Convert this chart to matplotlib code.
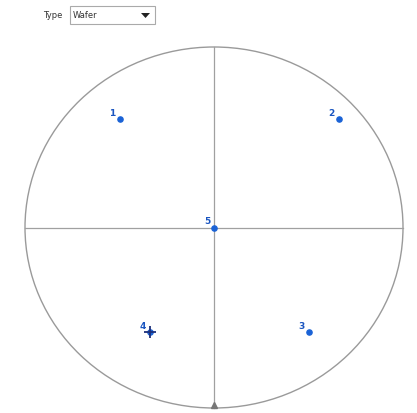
import numpy as np
import matplotlib.pyplot as plt
from matplotlib.patches import Ellipse, FancyBboxPatch, Polygon

# site positions on the wafer (normalised, centre = 0)
site_ids = ['1', '2', '3', '4', '5']
site_x = [-0.50, 0.66, 0.50, -0.34, 0.00]
site_y = [0.60, 0.60, -0.58, -0.58, 0.00]
marked_site = '4'
type_label = 'Type'
type_value = 'Wafer'

fig = plt.figure(figsize=(4.17, 4.13), dpi=100)
W, H = 417, 413

# wafer area
ax = fig.add_axes([25 / W, 5 / H, 378 / W, 361 / H])
ax.set_xlim(-1, 1)
ax.set_ylim(-1, 1)
ax.axis('off')

ax.add_patch(Ellipse((0, 0), 2, 2, fill=False, ec='#9a9a9a', lw=1.0, clip_on=False))
ax.plot([-1, 1], [0, 0], color='#a0a0a0', lw=0.9, clip_on=False)
ax.plot([0, 0], [-1, 1], color='#a0a0a0', lw=0.9, clip_on=False)
# notch
ax.plot([0], [-0.985], marker='^', color='#777777', ms=5, clip_on=False)

ax.scatter(site_x, site_y, s=14, color='#1a62d6', zorder=3)
for sid, x, y in zip(site_ids, site_x, site_y):
    ax.annotate(sid, (x, y), xytext=(-5, 1), textcoords='offset points',
                color='#1a55c0', fontsize=6.5, fontweight='bold', ha='center', va='bottom')
    if sid == marked_site:
        ax.plot([x], [y], marker='+', color='#1c2f7a', ms=9, mew=1.3, zorder=4)

# type selector above the chart
fig.text(62 / W, 1 - 15 / H, type_label, fontsize=6, ha='right', va='center', color='#333333')
box = FancyBboxPatch((70 / W, 1 - 24 / H), 85 / W, 18 / H, boxstyle='square,pad=0',
                     transform=fig.transFigure, fc='white', ec='#aaaaaa', lw=0.8)
fig.patches.append(box)
fig.text(73 / W, 1 - 15 / H, type_value, fontsize=6, ha='left', va='center', color='#333333')
arrow = Polygon([[141 / W, 1 - 13 / H], [150 / W, 1 - 13 / H], [145.5 / W, 1 - 18 / H]],
                closed=True, transform=fig.transFigure, fc='#222222', ec='none')
fig.patches.append(arrow)

fig.savefig('out.png', dpi=100)
